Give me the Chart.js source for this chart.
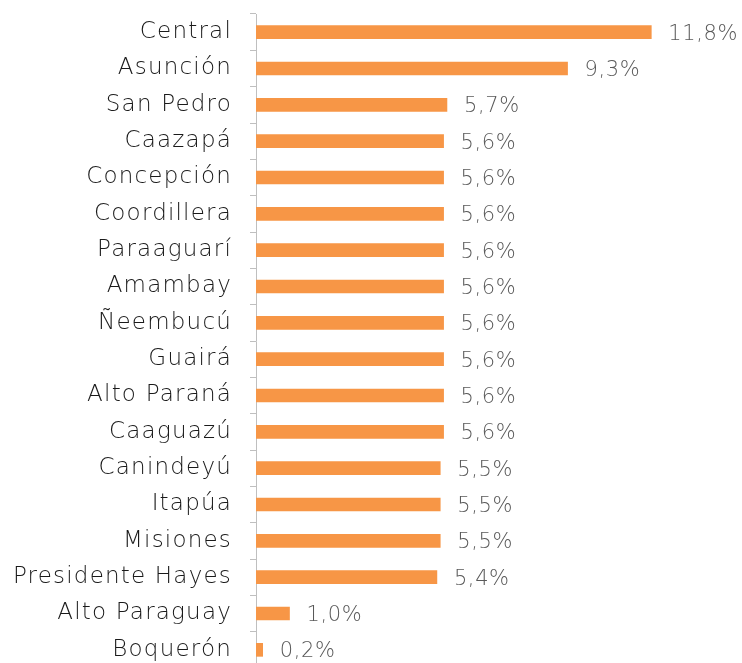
<!DOCTYPE html>
<html>
<head>
<meta charset="utf-8">
<script src="https://cdn.jsdelivr.net/npm/chart.js@4"></script>
<style>
  html, body { margin: 0; padding: 0; background: #fff; overflow: hidden; }
  #wrap { width: 742px; height: 668px; position: relative; }
</style>
</head>
<body>
<div id="wrap"><canvas id="depts"></canvas></div>
<script>
const departments = [
    "Central", "Asunción", "San Pedro", "Caazapá", "Concepción", "Coordillera",
    "Paraaguarí", "Amambay", "Ñeembucú", "Guairá", "Alto Paraná", "Caaguazú",
    "Canindeyú", "Itapúa", "Misiones", "Presidente Hayes", "Alto Paraguay", "Boquerón"
];
const shares = [11.8, 9.3, 5.7, 5.6, 5.6, 5.6, 5.6, 5.6, 5.6, 5.6, 5.6, 5.6, 5.5, 5.5, 5.5, 5.4, 1.0, 0.2];

const fontFamily = "'DejaVu Sans', sans-serif";

// a bit of letter spacing so the labels get closer to the original's wide font
const spacing = {
    id: "spacing",
    beforeDraw(chart) {
        chart.ctx.letterSpacing = "1.2px";
    }
};

// value labels at the end of each bar, e.g. "11,8%"
const valueLabels = {
    id: "valueLabels",
    afterDatasetsDraw(chart) {
        const ctx = chart.ctx;
        const meta = chart.getDatasetMeta(0);
        ctx.save();
        ctx.letterSpacing = "0.6px";
        ctx.font = "300 21px " + fontFamily;
        ctx.fillStyle = "#595959";
        ctx.textAlign = "left";
        ctx.textBaseline = "middle";
        meta.data.forEach((bar, i) => {
            const txt = shares[i].toFixed(1).replace(".", ",") + "%";
            ctx.fillText(txt, bar.x + 17, bar.y + 2);
        });
        ctx.restore();
    }
};

const ctx = document.getElementById("depts").getContext("2d");

const chart = new Chart(ctx, {
    type: "bar",
    data: {
        labels: departments,
        datasets: [{
            data: shares,
            backgroundColor: "#F79646",
            barThickness: 13,
        }]
    },
    options: {
        indexAxis: "y",
        responsive: true,
        maintainAspectRatio: false,
        animation: false,
        layout: { padding: { top: 14, right: 17, bottom: 0, left: 0 } },
        plugins: {
            legend: { display: false },
            tooltip: { enabled: false },
        },
        scales: {
            x: {
                display: false,
                min: 0,
                max: 14,
            },
            y: {
                afterFit(scale) {
                    scale.width = 256;
                    scale.paddingTop = 0;
                    scale.paddingBottom = 0;
                },
                border: { display: true, color: "#BFBFBF", width: 1 },
                grid: {
                    offset: true,
                    drawOnChartArea: false,
                    tickLength: 6,
                    color: "#BFBFBF",
                },
                ticks: {
                    color: "#1a1a1a",
                    padding: 18,
                    font: { size: 23, family: fontFamily, weight: "300" },
                },
            }
        }
    },
    plugins: [spacing, valueLabels]
});
</script>
</body>
</html>
